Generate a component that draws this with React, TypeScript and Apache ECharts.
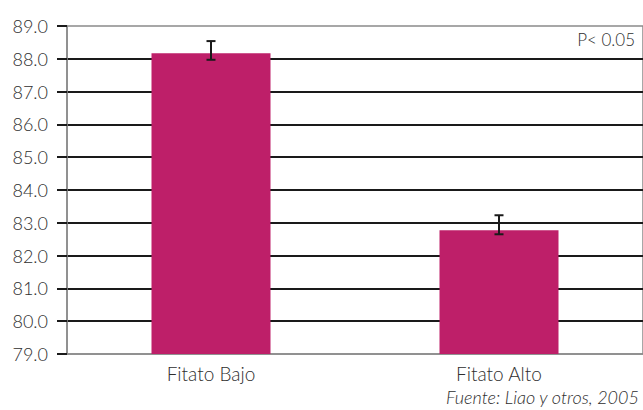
import React, { useEffect, useRef } from "react";
import * as echarts from "echarts";

const categories = ["Fitato Bajo", "Fitato Alto"];
const values = [88.17, 82.77];
const errLow = [87.97, 82.65];
const errHigh = [88.54, 83.23];
const yMin = 79;
const yMax = 89;
const annotation = "P< 0.05";
const source = "Fuente: Liao y otros, 2005";

const FONT = "Lato";
const TXT = "#2e2e2e";
const W = 300;

export default function App() {
  const ref = useRef<HTMLDivElement>(null);
  useEffect(() => {
    if (!ref.current) return;
    const chart = echarts.init(ref.current, null, { renderer: "svg" });
    const errData = categories.map((_, i) => [i, errLow[i], errHigh[i]]);
    chart.setOption({
      animation: false,
      grid: {
        left: 67,
        top: 26,
        right: -4,
        bottom: 56,
        show: true,
        borderColor: "#8a8a8a",
        borderWidth: 1.5,
        backgroundColor: "transparent",
      },
      xAxis: {
        type: "category",
        data: categories,
        axisLine: { show: true, lineStyle: { color: "#8a8a8a", width: 1.5 } },
        axisTick: { show: false },
        axisLabel: {
          margin: 10,
          fontFamily: FONT,
          fontWeight: W,
          fontSize: 19,
          color: TXT,
        },
      },
      yAxis: {
        type: "value",
        min: yMin,
        max: yMax,
        interval: 1,
        axisLine: { show: true, lineStyle: { color: "#8a8a8a", width: 1.5 } },
        axisTick: { show: true, length: 10, lineStyle: { color: "#1a1a1a", width: 2 } },
        axisLabel: {
          margin: 19,
          fontFamily: FONT,
          fontWeight: W,
          fontSize: 18,
          color: TXT,
          formatter: (v: number) => v.toFixed(1),
        },
        splitLine: {
          show: true,
          showMinLine: false,
          showMaxLine: false,
          lineStyle: { color: "#1a1a1a", width: 2 },
        },
      },
      series: [
        {
          type: "bar",
          data: values,
          barWidth: 119,
          itemStyle: { color: "#BE1F69" },
          z: 3,
        },
        {
          type: "custom",
          data: errData,
          z: 4,
          renderItem: (params: any, api: any) => {
            const x = api.value(0);
            const lo = api.coord([x, api.value(1)]);
            const hi = api.coord([x, api.value(2)]);
            const half = 4.5;
            const style = { stroke: "#1a1a1a", lineWidth: 2 };
            return {
              type: "group",
              children: [
                { type: "line", shape: { x1: lo[0], y1: lo[1], x2: hi[0], y2: hi[1] }, style },
                { type: "line", shape: { x1: hi[0] - half, y1: hi[1], x2: hi[0] + half, y2: hi[1] }, style },
                { type: "line", shape: { x1: lo[0] - half, y1: lo[1], x2: lo[0] + half, y2: lo[1] }, style },
              ],
            };
          },
        },
      ],
      graphic: [
        {
          type: "text",
          right: 8,
          top: 31,
          style: {
            text: annotation,
            fontFamily: FONT,
            fontWeight: W,
            fontSize: 17,
            fill: TXT,
          },
        },
        {
          type: "text",
          left: 446,
          top: 388,
          style: {
            text: source,
            fontFamily: FONT,
            fontWeight: W,
            fontStyle: "italic",
            fontSize: 18,
            fill: TXT,
          },
        },
      ],
    });
    return () => chart.dispose();
  }, []);
  return (
    <div
      ref={ref}
      style={{ position: "fixed", left: 0, top: 0, width: 643, height: 410, background: "#fff" }}
    />
  );
}
